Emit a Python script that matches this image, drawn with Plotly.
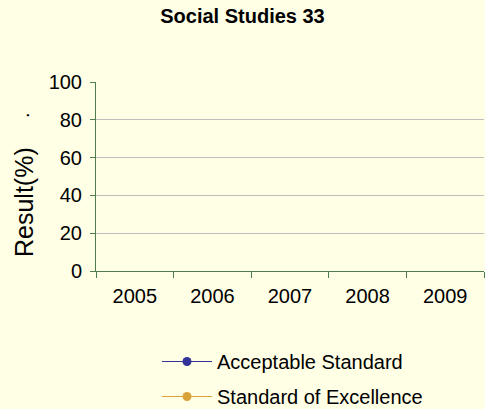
import plotly.graph_objects as go

# Exam years and results (no results reported for these years)
years = ["2005", "2006", "2007", "2008", "2009"]
acceptable = [None, None, None, None, None]
excellence = [None, None, None, None, None]

bg = "#FFFFE6"
axis_green = "#4E7E4E"
font_family = "Liberation Sans, Arial, sans-serif"
W, H = 485, 409
L, T, PW, PH = 96, 82, 388, 189  # plot area in pixels

fig = go.Figure()
fig.add_trace(go.Scatter(
    x=years, y=acceptable, name="Acceptable Standard", mode="lines+markers",
    legendgroup="a", line=dict(color="#333399", width=1),
    marker=dict(color="#333399", size=9),
))
fig.add_trace(go.Scatter(
    x=years, y=excellence, name="Standard of Excellence", mode="lines+markers",
    legendgroup="b", line=dict(color="#D9A33A", width=1),
    marker=dict(color="#D9A33A", size=9),
))

fig.update_layout(
    width=W, height=H,
    margin=dict(l=L, r=W - L - PW, t=T, b=H - T - PH, autoexpand=False),
    paper_bgcolor=bg, plot_bgcolor=bg,
    font=dict(family=font_family, color="#000000", size=20),
    title=dict(text="<b>Social Studies 33</b>", x=0.5, xanchor="center",
               y=1 - 16 / H, yanchor="middle", font=dict(size=20)),
    showlegend=True,
    legend=dict(x=(157 - L) / PW, xanchor="left",
                y=-(342 - (T + PH)) / PH, yanchor="top",
                bgcolor="rgba(0,0,0,0)", font=dict(size=20), itemwidth=50,
                tracegroupgap=6, traceorder="grouped"),
)

fig.update_xaxes(
    type="category", categoryorder="array", categoryarray=years,
    range=[-0.5, 4.5], showgrid=False, zeroline=False,
    showline=True, linecolor=axis_green, linewidth=1,
    ticks="outside", tickson="boundaries", ticklen=6, tickcolor=axis_green,
    ticklabelstandoff=7, tickfont=dict(size=20), fixedrange=True,
)
fig.update_yaxes(
    range=[0, 100], dtick=20, showgrid=True, gridcolor="#BEBEBE", gridwidth=1,
    zeroline=False, showline=True, linecolor=axis_green, linewidth=1,
    ticks="outside", ticklen=5, tickcolor=axis_green,
    ticklabelstandoff=4, tickfont=dict(size=20), fixedrange=True,
)

fig.add_annotation(text="Result(%)", textangle=-90, xref="paper", yref="paper",
                   x=(24 - L) / PW, y=(T + PH - 202) / PH, xanchor="center",
                   yanchor="middle", showarrow=False, font=dict(size=25))
fig.add_annotation(text=".", textangle=-90, xref="paper", yref="paper",
                   x=(22 - L) / PW, y=(T + PH - 115) / PH, xanchor="center",
                   yanchor="middle", showarrow=False, font=dict(size=20))

fig.write_html("out.html")
